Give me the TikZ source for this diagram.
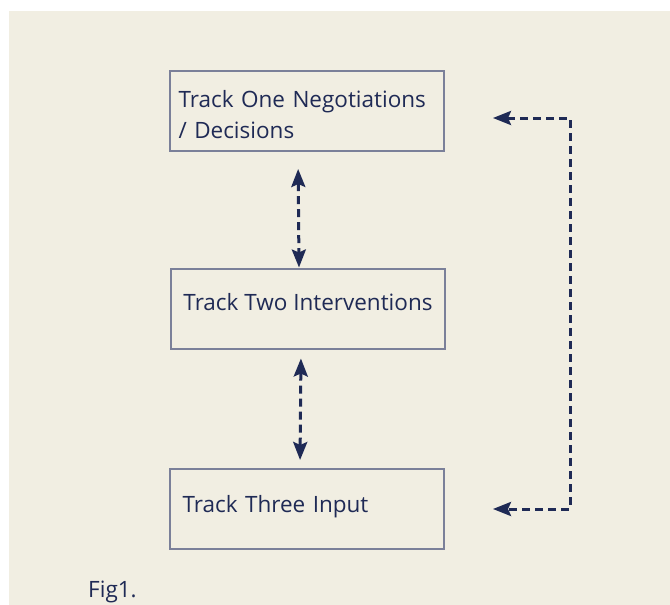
\documentclass[tikz,border=0pt]{standalone}
\usepackage{fontspec}
\setmainfont{Open Sans}
\usetikzlibrary{arrows.meta,calc}
\definecolor{bg}{HTML}{F1EEE2}
\definecolor{navy}{HTML}{1F2A55}
\definecolor{boxline}{HTML}{7B8099}
\tikzset{
  box/.style={draw=boxline, line width=2pt, minimum width=274pt, minimum height=80pt, text=navy, font=\fontsize{22.5}{31}\selectfont, inner sep=0pt},
  tip/.tip={Stealth[length=18pt,width=14pt,inset=3pt]},
  arr/.style={navy, line width=3pt, dash pattern=on 8pt off 5pt, tip-tip}
}
\begin{document}
\begin{tikzpicture}[x=1pt,y=-1pt]
\useasboundingbox (0,0) rectangle (670,605);
\fill[white] (0,0) rectangle (670,605);
\fill[bg] (9,11) rectangle (670,605);
\node[box, text width=257pt, align=left, text height=22pt, text depth=30pt] (b1) at (307,111) {Track One Negotiations\\/ Decisions};
\node[box, align=center, text height=17pt, text depth=14pt] (b2) at (308,308.5) {Track Two Interventions};
\node[box, text width=249pt, align=left, text height=17pt, text depth=11pt] (b3) at (307,509) {Track Three Input};
\draw[arr, shorten <=17pt] ([xshift=-9pt]b1.south) -- ([xshift=-9pt]b2.north);
\draw[arr, shorten <=9pt, shorten >=8pt] ([xshift=-7pt]b2.south) -- ([xshift=-7pt]b3.north);
\coordinate (c1) at ([shift={(48,7)}]b1.east);
\coordinate (c2) at ([xshift=48pt]b3.east);
\draw[arr] (c1) -- ++(77,0) |- (c2);
\node[text=navy, font=\fontsize{22.5}{24}\selectfont, anchor=base west, inner sep=0pt] (fig) at (88,597) {Fig1.};
\end{tikzpicture}
\end{document}
